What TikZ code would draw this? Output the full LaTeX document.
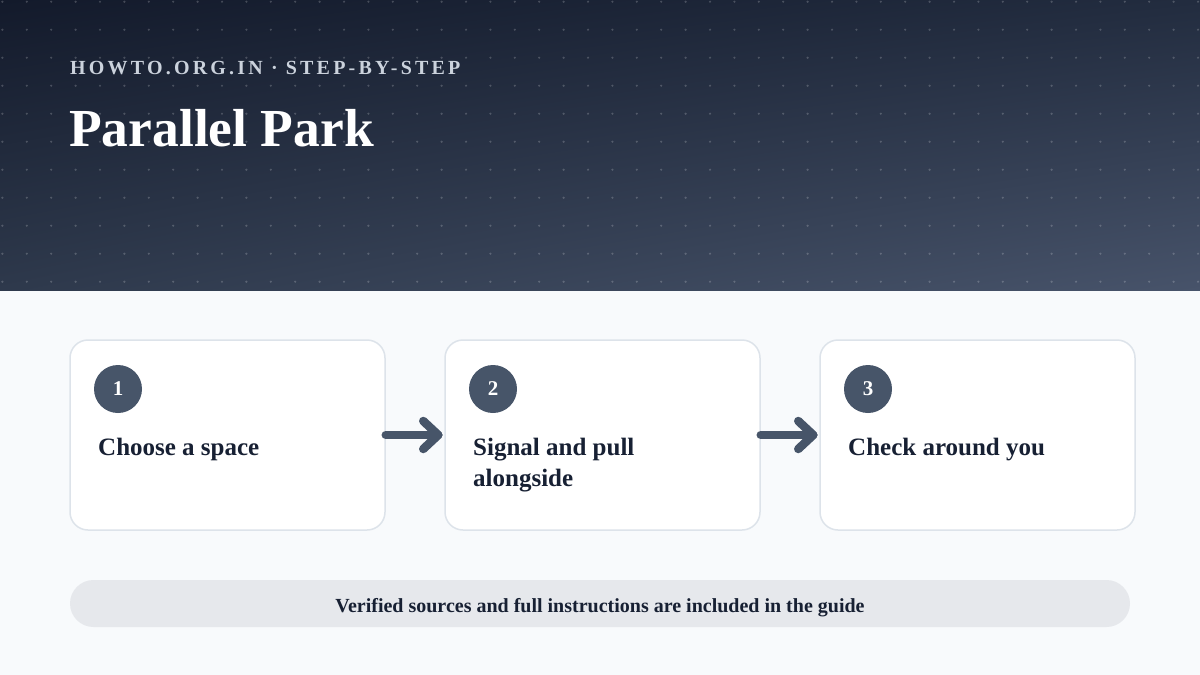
\documentclass[tikz,border=0pt]{standalone}
\usepackage{fontspec}
\usetikzlibrary{shadings}
\setmainfont{Liberation Serif}
\newfontfamily\kickerfont[LetterSpace=16]{Liberation Serif}
\definecolor{pagebg}{HTML}{F8FAFC}
\definecolor{cardborder}{HTML}{DDE3EA}
\definecolor{accent}{HTML}{475569}
\definecolor{inkdark}{HTML}{172033}
\definecolor{pillbg}{HTML}{E6E8EC}
\definecolor{kicker}{HTML}{CBD2DC}
\definecolor{hdTL}{HTML}{131A2B}
\definecolor{hdTR}{HTML}{222C3F}
\definecolor{hdBL}{HTML}{2E394C}
\definecolor{hdBR}{HTML}{47536A}
\tikzset{
  stepcard/.style={draw=cardborder, line width=1.5pt, fill=white, rounded corners=18pt,
    minimum width=315pt, minimum height=190pt, inner sep=0pt},
  stepnum/.style={circle, fill=accent, minimum size=48pt, inner sep=0pt,
    text=white, font=\bfseries\fontsize{21}{21}\selectfont},
  steptext/.style={anchor=base west, inner sep=0pt, text=inkdark, align=left,
    font=\bfseries\fontsize{25}{31}\selectfont},
  arrowline/.style={draw=accent, line width=8.5pt, line cap=round, line join=round},
  footpill/.style={fill=pillbg, rounded corners=23.5pt, minimum width=1060pt,
    minimum height=47pt, inner sep=0pt, text height=17pt, text depth=0pt,
    text=inkdark, font=\bfseries\fontsize{20}{20}\selectfont},
  griddot/.style={fill=white, fill opacity=0.2}
}
\begin{document}
\begin{tikzpicture}[x=1pt,y=-1pt]
\useasboundingbox (0,0) rectangle (1200,675);
\fill[pagebg] (0,0) rectangle (1200,675);
% header
\shade[upper left=hdTL, upper right=hdTR, lower left=hdBL, lower right=hdBR] (0,0) rectangle (1200,290);
\foreach \j in {0,...,10}{
  \foreach \i in {0,...,49}{
    \fill[griddot] (2.4+24.4*\i, 1.7+28*\j) circle (1.2pt);
  }
}
\node[anchor=base west, inner sep=0pt, text=kicker, font=\kickerfont\bfseries\fontsize{20}{20}\selectfont] (kick) at (70,74) {HOWTO.ORG.IN · STEP-BY-STEP};
\node[anchor=base west, inner sep=0pt, text=white, font=\bfseries\fontsize{53.5}{53.5}\selectfont] (title) at (69,146) {Parallel Park};
% cards
\node[stepcard] (c1) at (227.5,435) {};
\node[stepcard] (c2) at (602.5,435) {};
\node[stepcard] (c3) at (977.5,435) {};
\node[stepnum] (n1) at (118,389) {1};
\node[stepnum] (n2) at (493,389) {2};
\node[stepnum] (n3) at (868,389) {3};
\node[steptext] (t1) at (98,455) {Choose a space};
\node[steptext] (t2) at (473,486) {Signal and pull\\alongside};
\node[steptext] (t3) at (848,455) {Check around you};
% arrows
\draw[arrowline] (c1.east) -- ([xshift=-6pt]c2.west);
\draw[arrowline] ([xshift=-21pt,yshift=14pt]c2.west) -- ([xshift=-6pt]c2.west) -- ([xshift=-21pt,yshift=-14pt]c2.west);
\draw[arrowline] (c2.east) -- ([xshift=-6pt]c3.west);
\draw[arrowline] ([xshift=-21pt,yshift=14pt]c3.west) -- ([xshift=-6pt]c3.west) -- ([xshift=-21pt,yshift=-14pt]c3.west);
% footer
\node[footpill] (foot) at (600,603.5) {Verified sources and full instructions are included in the guide};
\end{tikzpicture}
\end{document}
